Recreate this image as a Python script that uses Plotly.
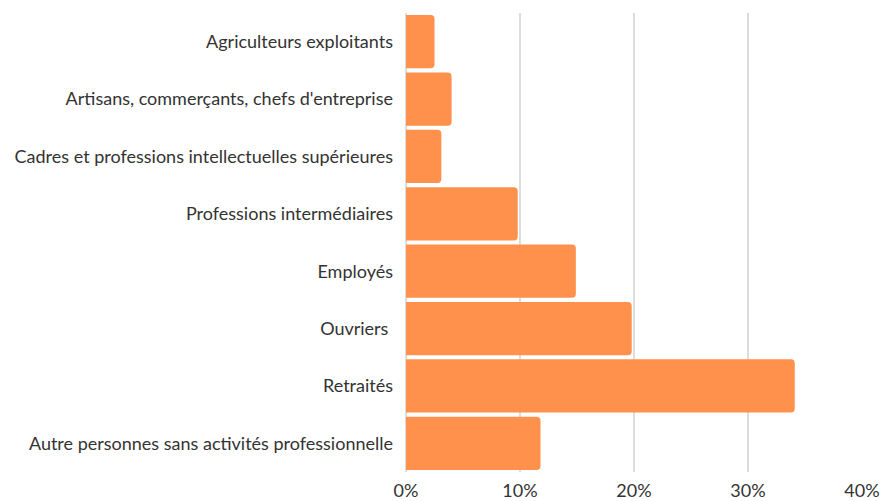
import plotly.graph_objects as go

categories = [
    "Agriculteurs exploitants",
    "Artisans, commerçants, chefs d'entreprise",
    "Cadres et professions intellectuelles supérieures",
    "Professions intermédiaires",
    "Employés",
    "Ouvriers ",
    "Retraités",
    "Autre personnes sans activités professionnelle",
]
values = [2.5, 4.0, 3.1, 9.8, 14.9, 19.8, 34.1, 11.8]
tick_vals = [0, 10, 20, 30, 40]
tick_text = ["0%", "10%", "20%", "30%", "40%"]

fig = go.Figure(go.Bar(
    x=values, y=categories, orientation="h",
    marker=dict(color="#FF914D", line=dict(width=0)),
    hovertemplate="%{y}: %{x}%<extra></extra>",
))
fig.update_layout(
    width=880, height=501,
    margin=dict(l=406, r=18, t=13, b=29, autoexpand=False),
    paper_bgcolor="white", plot_bgcolor="white",
    font=dict(family="Lato, sans-serif", size=18, color="#333333"),
    bargap=0.07, barcornerradius=4,
    showlegend=False,
)
fig.update_xaxes(
    range=[0, 40], tickvals=tick_vals, ticktext=tick_text,
    showgrid=True, gridcolor="#dddddd", gridwidth=1.5,
    zeroline=True, zerolinecolor="#dddddd", zerolinewidth=1.5,
    showline=False, ticks="", automargin=False, ticklabelstandoff=6,
)
fig.update_yaxes(
    categoryorder="array", categoryarray=categories,
    range=[len(categories) - 0.5, -0.5],
    showgrid=False, zeroline=False, showline=False, ticks="",
    ticklabelstandoff=12, automargin=False,
)
fig.write_html("out.html", config={"displayModeBar": False},
               post_script="document.body.style.margin='0';")
